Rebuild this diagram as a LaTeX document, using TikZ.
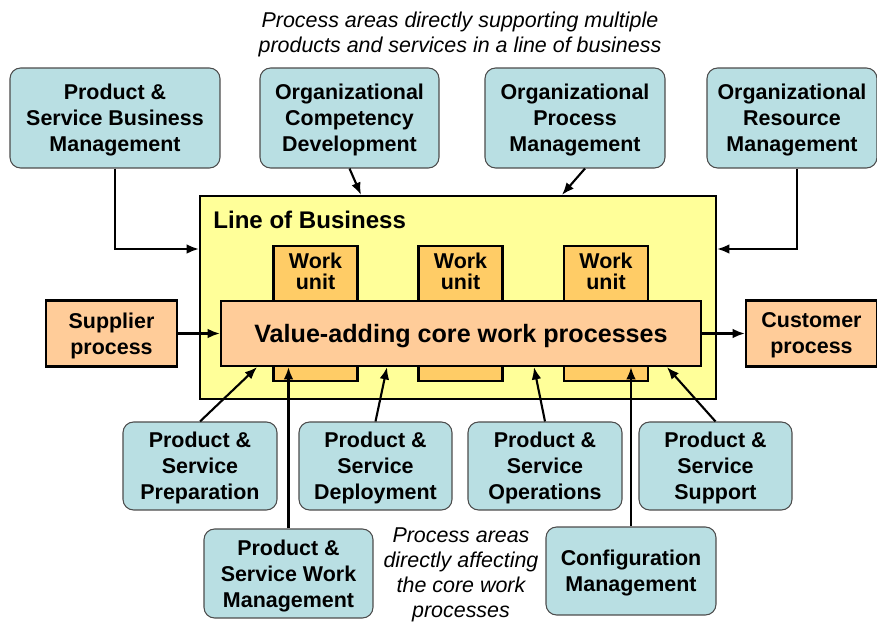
\documentclass[tikz,border=0pt]{standalone}
\usepackage{fontspec}
\setmainfont{Liberation Sans}
\usetikzlibrary{arrows.meta}
\definecolor{pablue}{HTML}{B9DFE3}
\definecolor{lobyellow}{HTML}{FFFF99}
\definecolor{wuorange}{HTML}{FFCC66}
\definecolor{vapeach}{HTML}{FFCC99}
\tikzset{
  pa/.style={draw=black!70, line width=0.6pt, fill=pablue, rounded corners=6pt,
    align=center, inner sep=0pt, text depth=0pt, font=\fontsize{12.2}{14.8}\selectfont\bfseries},
  proc/.style={draw, line width=1.3pt, fill=vapeach, align=center, inner sep=0pt, text depth=0pt,
    font=\fontsize{12.2}{14.8}\selectfont\bfseries},
  wu/.style={draw, line width=1.3pt, fill=wuorange, minimum width=1.68cm, minimum height=2.7cm},
  wutxt/.style={anchor=north, align=center, inner sep=0pt, font=\fontsize{12.2}{11.9}\selectfont\bfseries},
  note/.style={align=center, inner sep=0pt, font=\fontsize{12.2}{14.2}\selectfont\itshape},
  arr/.style={-{Latex[length=7pt,width=5.5pt]}, line width=1.2pt}
}

\begin{document}
\begin{tikzpicture}[x=0.02cm, y=-0.02cm]
  \useasboundingbox (0,0) rectangle (877,625);

  \node[note] (topnote) at (460,34) {Process areas directly supporting multiple\\products and services in a line of business};

  \node[pa, minimum width=4.2cm, minimum height=2cm] (psbm) at (115,118) {Product \&\\Service Business\\Management};
  \node[pa, minimum width=3.58cm, minimum height=2cm] (ocd) at (349.5,118) {Organizational\\Competency\\Development};
  \node[pa, minimum width=3.6cm, minimum height=2cm] (opm) at (575,118) {Organizational\\Process\\Management};
  \node[pa, minimum width=3.4cm, minimum height=2cm] (orm) at (792,118) {Organizational\\Resource\\Management};

  \node[draw, line width=1.3pt, fill=lobyellow, minimum width=10.32cm, minimum height=4.06cm] (lob) at (458,297.5) {};
  \node[anchor=base west, inner sep=0pt, font=\fontsize{13.7}{16}\selectfont\bfseries] (lobt) at (213,229) {Line of Business};

  \node[wu] (wu1) at (315.5,313.5) {};
  \node[wu] (wu2) at (460.5,313.5) {};
  \node[wu] (wu3) at (606,313.5) {};
  \node[wutxt] (wu1t) at ([yshift=-0.16cm]wu1.north) {Work\\unit};
  \node[wutxt] (wu2t) at ([yshift=-0.16cm]wu2.north) {Work\\unit};
  \node[wutxt] (wu3t) at ([yshift=-0.16cm]wu3.north) {Work\\unit};

  \node[proc, minimum width=9.6cm, minimum height=1.3cm, text depth=-1.5pt, font=\fontsize{14.3}{17}\selectfont\bfseries] (va) at (461,333.5) {Value-adding core work processes};
  \node[proc, minimum width=2.62cm, minimum height=1.32cm] (sup) at (111.5,333.5) {Supplier\\process};
  \node[proc, minimum width=2.62cm, minimum height=1.32cm] (cust) at (811.5,333.5) {Customer\\process};

  \node[pa, minimum width=3.08cm, minimum height=1.76cm] (psp) at (200,466) {Product \&\\Service\\Preparation};
  \node[pa, minimum width=3.06cm, minimum height=1.76cm] (psd) at (375.5,466) {Product \&\\Service\\Deployment};
  \node[pa, minimum width=3.08cm, minimum height=1.76cm] (pso) at (545,466) {Product \&\\Service\\Operations};
  \node[pa, minimum width=3.06cm, minimum height=1.76cm] (pss) at (715.5,466) {Product \&\\Service\\Support};
  \node[pa, minimum width=3.38cm, minimum height=1.78cm] (pswm) at (288.5,573.5) {Product \&\\Service Work\\Management};
  \node[pa, minimum width=3.4cm, minimum height=1.76cm] (cm) at (631,571) {Configuration\\Management};

  \node[note] (botnote) at (461,574.5) {Process areas\\directly affecting\\the core work\\processes};

  \draw[arr] (psbm.south) |- ([yshift=0.97cm]lob.west);
  \draw[arr] (ocd.south) -- ([xshift=-1.94cm]lob.north);
  \draw[arr] ([xshift=0.2cm]opm.south) -- ([xshift=2.08cm]lob.north);
  \draw[arr] ([xshift=0.1cm]orm.south) |- ([yshift=0.97cm]lob.east);
  \draw[arr] (sup.east) -- (va.west);
  \draw[arr] (va.east) -- (cust.west);
  \draw[arr] (psp.north) -- ([xshift=-4.08cm]va.south);
  \draw[arr] (pswm.north) -- (pswm.north |- va.south);
  \draw[arr] (psd.north) -- ([xshift=-1.48cm]va.south);
  \draw[arr] (pso.north) -- ([xshift=1.46cm]va.south);
  \draw[arr] (cm.north) -- (cm.north |- va.south);
  \draw[arr] (pss.north) -- ([xshift=4.12cm]va.south);
\end{tikzpicture}
\end{document}
